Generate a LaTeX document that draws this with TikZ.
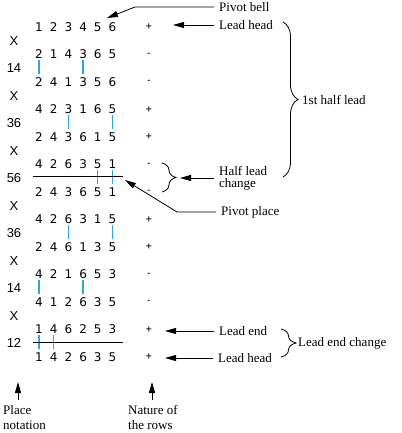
\documentclass[tikz,border=0pt]{standalone}
\usepackage{fontspec}
\setmainfont{Liberation Serif}
\newfontfamily\bellfont{DejaVu Sans}
\newfontfamily\signfont{DejaVu Sans Mono}
\newfontfamily\pnfont{Liberation Sans}
\usetikzlibrary{arrows.meta,decorations.pathreplacing}
\definecolor{stayblue}{RGB}{40,170,225}
\tikzset{
  bell/.style={font=\bellfont\fontsize{12}{12}\selectfont,inner sep=1pt},
  sign/.style={font=\signfont\fontsize{10}{10}\selectfont,inner sep=1pt},
  pn/.style={font=\pnfont\fontsize{13}{13}\selectfont,inner sep=1pt},
  note/.style={font=\fontsize{13}{12}\selectfont,inner sep=5pt,anchor=west,align=left},
  arr/.style={line width=0.8pt,-{Triangle[length=11pt,width=6pt]}},
  stay/.style={stayblue,line width=1.3pt},
  rule/.style={line width=0.8pt},
  bracket/.style={line width=0.8pt,decorate,decoration={brace,amplitude=#1}},
  bracket/.default=15pt
}
\begin{document}
\begin{tikzpicture}[x=1pt,y=-1pt]
 \useasboundingbox (0,0) rectangle (401,433);
 % rows of changes
 \foreach \r/\bells/\sgn in {1/{1,2,3,4,5,6}/+, 2/{2,1,4,3,6,5}/-, 3/{2,4,1,3,5,6}/-,
   4/{4,2,3,1,6,5}/+, 5/{2,4,3,6,1,5}/+, 6/{4,2,6,3,5,1}/-, 7/{2,4,3,6,5,1}/-,
   8/{4,2,6,3,1,5}/+, 9/{2,4,6,1,3,5}/+, 10/{4,2,1,6,5,3}/-, 11/{4,1,2,6,3,5}/-,
   12/{1,4,6,2,5,3}/+, 13/{1,4,2,6,3,5}/+}{
  \foreach \b [count=\c] in \bells
   \node[bell] (b\r-\c) at ({39+14.7*(\c-1)},{27+27.5*(\r-1)}) {\b};
  \node[sign] (s\r) at (149,{27+27.5*(\r-1)}) {\sgn};
 }
 % place notation
 \foreach \p [count=\i] in {X,14,X,36,X,56,X,36,X,14,X,12}
  \node[pn] (p\i) at (14,{40.75+27.5*(\i-1)}) {\p};
 % bells that stay in place
 \foreach \r/\s/\c in {2/3/1,2/3/4,4/5/3,4/5/6,6/7/5,6/7/6,8/9/3,8/9/6,10/11/1,10/11/4,12/13/1,12/13/2}
  \draw[stay,shorten >=2pt] (b\r-\c.south) -- (b\s-\c.north);
 % half lead and lead end rules
 \coordinate (hl-a) at (33,176.5); \coordinate (hl-b) at (123,176.5);
 \coordinate (le-a) at (33,342); \coordinate (le-b) at (123,342);
 \draw[rule] (hl-a) -- (hl-b);
 \draw[rule] (le-a) -- (le-b);
 % notes on the right
 \node[note] (pbell) at (214,7) {Pivot bell};
 \node[note] (lhead) at (214,25) {Lead head};
 \node[note] (hlc) at (214,178) {Half lead\\change};
 \node[note] (pplace) at (216,212) {Pivot place};
 \node[note] (lend) at (214,331) {Lead end};
 \node[note] (lhead2) at (213,358) {Lead head};
 \node[note] (half) at (297,100) {1st half lead};
 \node[note] (lec) at (293,343) {Lead end change};
 \coordinate (pb-bend) at (135,7); \coordinate (pb-tip) at (107,18);
 \draw[arr] (pbell.west) -- (pb-bend) -- (pb-tip);
 \coordinate (lh-tip) at (173,25);
 \draw[arr] (lhead.west) -- (lh-tip);
 \coordinate (hlc-tip) at (180,178);
 \draw[arr] (hlc.west) -- (hlc-tip);
 \coordinate (pp-bend) at (177,212); \coordinate (pp-tip) at (125,180);
 \draw[arr] (pplace.west) -- (pp-bend) -- (pp-tip);
 \coordinate (le-tip) at (165,331); \coordinate (lh2-tip) at (165,358);
 \draw[arr] (lend.west) -- (le-tip);
 \draw[arr] (lhead2.west) -- (lh2-tip);
 % braces
 \draw[bracket] (283,22) -- (283,177);
 \draw[bracket=14pt] (162,163) -- (162,192);
 \draw[bracket=15pt] (281,329) -- (281,357);
 % captions at the foot
 \node[note,font=\fontsize{13}{15}\selectfont] (place) at (-2,417.5) {Place\\notation};
 \node[note,font=\fontsize{13}{15}\selectfont] (nature) at (123,417.5) {Nature of\\the rows};
 \coordinate (pn-tip) at (18,382); \coordinate (nat-tip) at (152,382);
 \draw[arr] (pn-tip |- place.north) -- (pn-tip);
 \draw[arr] (nat-tip |- nature.north) -- (nat-tip);
\end{tikzpicture}
\end{document}
